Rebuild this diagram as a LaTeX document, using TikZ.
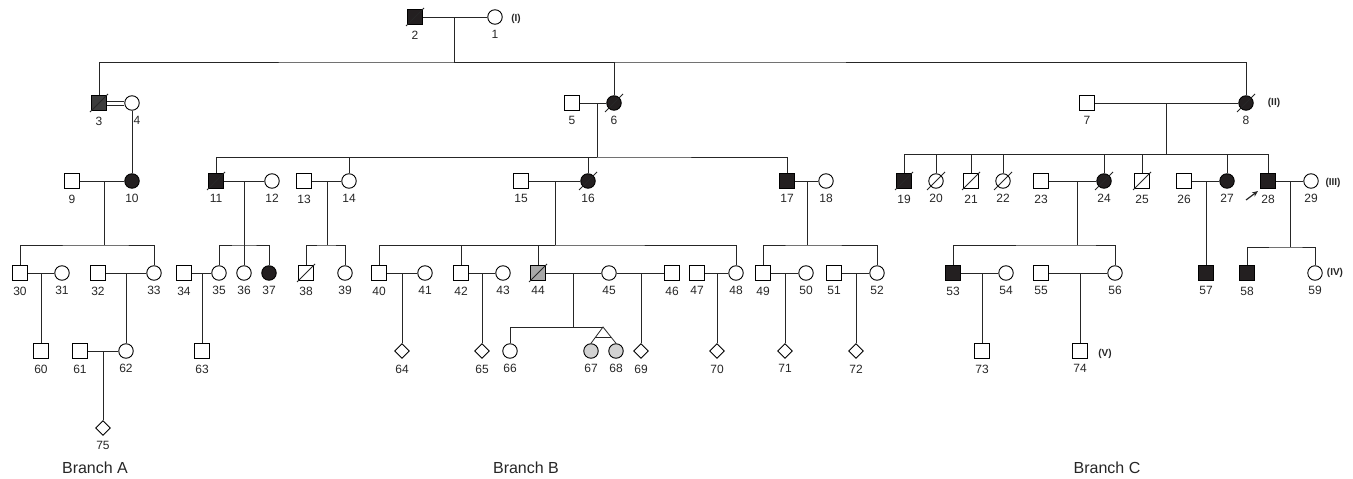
\documentclass[tikz,border=0pt]{standalone}
\usepackage{fontspec}
\setmainfont{Liberation Sans}
\usetikzlibrary{shapes.geometric,calc,arrows.meta}
\definecolor{aff}{HTML}{231F20}
\definecolor{carrier}{HTML}{3C3C3C}
\definecolor{midgrey}{HTML}{A8A8A8}
\definecolor{twingrey}{HTML}{D2D2D2}
\tikzset{
  male/.style={draw, rectangle, minimum size=15, inner sep=0, fill=white, line width=0.9},
  female/.style={draw, circle, minimum size=14.5, inner sep=0, fill=white, line width=0.9},
  unknown/.style={draw, diamond, minimum size=15, inner sep=0, fill=white, line width=0.9},
  num/.style={font=\fontsize{12}{14}\selectfont, inner sep=0, label distance=5.5, text=black!85},
  gen/.style={font=\fontsize{10}{12}\selectfont\bfseries, inner sep=0, text=black!85},
  branch/.style={font=\fontsize{16}{18}\selectfont, inner sep=0, text=black!85},
  rel/.style={line width=0.8, black!85},
}
\begin{document}
\begin{tikzpicture}[x=1pt,y=-1pt]
\useasboundingbox (0,0) rectangle (1353,479);
% individuals
\foreach \n/\x/\y in {5/572/103, 7/1087/103, 9/72/181, 13/304/181, 15/521/181, 21/971/181,
  23/1041/181, 25/1142/181, 26/1184/181, 30/20/273, 32/98/273, 34/184/273, 38/306/273,
  40/379/273, 42/461/273, 46/672/273, 47/697/273, 49/763/273, 51/834/273, 55/1041/273,
  60/41/351, 61/80/351, 63/202/351, 73/982/351, 74/1080/351}
  \node[male, label={[num]below:\n}] (p\n) at (\x,\y) {};
\foreach \n/\x/\y in {1/495/17, 12/272/181, 14/349/181, 18/826/181, 20/936/181, 22/1003/181,
  29/1311/181, 31/62/273, 33/154/273, 35/219/273, 36/244/273, 39/345/273, 41/425/273,
  43/503/273, 45/609/273, 48/736/273, 50/806/273, 52/877/273, 54/1006/273, 56/1115/273,
  59/1315/273, 62/126/351, 66/510/351}
  \node[female, label={[num]below:\n}] (p\n) at (\x,\y) {};
\foreach \n/\x/\y in {2/415/17, 11/216/181, 17/787/181, 19/904/181, 28/1268/181,
  53/953/273, 57/1206/273, 58/1247/273}
  \node[male, fill=aff, label={[num]below:\n}] (p\n) at (\x,\y) {};
\foreach \n/\x/\y in {6/614/103, 8/1246/103, 10/132/181, 16/588/181, 24/1104/181,
  27/1227/181, 37/269/273}
  \node[female, fill=aff, label={[num]below:\n}] (p\n) at (\x,\y) {};
\foreach \n/\x/\y in {64/402/351, 65/482/351, 69/641/351, 70/717/351, 71/785/351,
  72/856/351, 75/103/428}
  \node[unknown, label={[num]below:\n}] (p\n) at (\x,\y) {};
\node[male, fill=carrier, label={[num]below:3}] (p3) at (99,103) {};
\node[female, label={[num, xshift=5]below:4}] (p4) at (132,103) {};
\node[male, fill=midgrey, label={[num]below:44}] (p44) at (538,273) {};
\node[female, fill=twingrey, label={[num]below:67}] (p67) at (591,351) {};
\node[female, fill=twingrey, label={[num]below:68}] (p68) at (616,351) {};
% deceased
\foreach \n in {2,3,6,8,11,16,19,20,21,22,24,25,38,44}
  \draw[rel] ($(p\n)+(-9,9)$) -- ($(p\n)+(9,-9)$);
% generation I
\coordinate (m2) at (454,17);
\coordinate (s2) at (454,62);
\draw[rel] (p2) -- (p1);
\draw[rel] (m2) -- (s2);
\draw[rel] (p3) |- (s2) -| (p8);
\draw[rel] (s2) -| (p6);
% generation II
\draw[rel] ([yshift=2]p3.east) -- ([yshift=2]p4.west);
\draw[rel] ([yshift=-2]p3.east) -- ([yshift=-2]p4.west);
\draw[rel] (p4) -- (p10);
\coordinate (m5) at (597,103);
\coordinate (s5) at (597,157);
\draw[rel] (p5) -- (p6);
\draw[rel] (m5) -- (s5);
\draw[rel] (p11) |- (s5) -| (p17);
\draw[rel] (s5) -| (p14);
\draw[rel] (s5) -| (p16);
\coordinate (m7) at (1166,103);
\coordinate (s7) at (1166,154);
\draw[rel] (p7) -- (p8);
\draw[rel] (m7) -- (s7);
\draw[rel] (p19) |- (s7) -| (p28);
\foreach \c in {20,21,22,24,25,27}
  \draw[rel] (s7) -| (p\c);
% generation III
\coordinate (m9) at (104,181);
\coordinate (s9) at (104,245);
\draw[rel] (p9) -- (p10);
\draw[rel] (m9) -- (s9);
\draw[rel] (p30) |- (s9) -| (p33);
\coordinate (m11) at (244,181);
\coordinate (s11) at (244,245);
\draw[rel] (p11) -- (p12);
\draw[rel] (m11) -- (p36);
\draw[rel] (p35) |- (s11) -| (p37);
\coordinate (m13) at (327,181);
\coordinate (s13) at (327,245);
\draw[rel] (p13) -- (p14);
\draw[rel] (m13) -- (s13);
\draw[rel] (p38) |- (s13) -| (p39);
\coordinate (m15) at (555,181);
\coordinate (s15) at (555,245);
\draw[rel] (p15) -- (p16);
\draw[rel] (m15) -- (s15);
\draw[rel] (p40) |- (s15) -| (p48);
\draw[rel] (s15) -| (p42);
\draw[rel] (s15) -| (p44);
\coordinate (m17) at (807,181);
\coordinate (s17) at (807,245);
\draw[rel] (p17) -- (p18);
\draw[rel] (m17) -- (s17);
\draw[rel] (p49) |- (s17) -| (p52);
\coordinate (m23) at (1077,181);
\coordinate (s23) at (1077,245);
\draw[rel] (p23) -- (p24);
\draw[rel] (m23) -- (s23);
\draw[rel] (p53) |- (s23) -| (p56);
\coordinate (m26) at (1206,181);
\draw[rel] (p26) -- (p27);
\draw[rel] (m26) -- (p57);
\coordinate (m28) at (1290,181);
\coordinate (s28) at (1290,247);
\draw[rel] (p28) -- (p29);
\draw[rel] (m28) -- (s28);
\draw[rel] (p58) |- (s28) -| (p59);
% generation IV
\coordinate (m30) at (41,273);
\draw[rel] (p30) -- (p31);
\draw[rel] (m30) -- (p60);
\coordinate (m32) at (126,273);
\draw[rel] (p32) -- (p33);
\draw[rel] (m32) -- (p62);
\coordinate (m34) at (202,273);
\draw[rel] (p34) -- (p35);
\draw[rel] (m34) -- (p63);
\coordinate (m40) at (402,273);
\draw[rel] (p40) -- (p41);
\draw[rel] (m40) -- (p64);
\coordinate (m42) at (482,273);
\draw[rel] (p42) -- (p43);
\draw[rel] (m42) -- (p65);
\coordinate (m44) at (573,273);
\coordinate (s44) at (573,327);
\coordinate (t67) at (603,327);
\draw[rel] (p44) -- (p45);
\draw[rel] (m44) -- (s44);
\draw[rel] (p66) |- (t67);
\draw[rel] (p67.north) -- (t67) -- (p68.north);
\draw[rel] ($(t67)!0.65!(p67.north)$) -- ($(t67)!0.65!(p68.north)$);
\coordinate (m45) at (641,273);
\draw[rel] (p45) -- (p46);
\draw[rel] (m45) -- (p69);
\coordinate (m47) at (717,273);
\draw[rel] (p47) -- (p48);
\draw[rel] (m47) -- (p70);
\coordinate (m49) at (785,273);
\draw[rel] (p49) -- (p50);
\draw[rel] (m49) -- (p71);
\coordinate (m51) at (856,273);
\draw[rel] (p51) -- (p52);
\draw[rel] (m51) -- (p72);
\coordinate (m53) at (982,273);
\draw[rel] (p53) -- (p54);
\draw[rel] (m53) -- (p73);
\coordinate (m55) at (1080,273);
\draw[rel] (p55) -- (p56);
\draw[rel] (m55) -- (p74);
% generation V
\coordinate (m61) at (103,351);
\draw[rel] (p61) -- (p62);
\draw[rel] (m61) -- (p75);
% proband
\coordinate (a28) at (1246,200);
\coordinate (b28) at (1258,191);
\draw[rel, line width=1.2, -{Stealth[length=6,width=5]}] (a28) -- (b28);
% generation and branch labels
\node[gen] (g1) at (516,19) {(I)};
\node[gen] (g2) at (1274,103) {(II)};
\node[gen] (g3) at (1333,183) {(III)};
\node[gen] (g4) at (1335,273) {(IV)};
\node[gen] (g5) at (1105,354) {(V)};
\node[branch] (bA) at (95,468) {Branch A};
\node[branch] (bB) at (526,468) {Branch B};
\node[branch] (bC) at (1107,468) {Branch C};
\end{tikzpicture}
\end{document}
